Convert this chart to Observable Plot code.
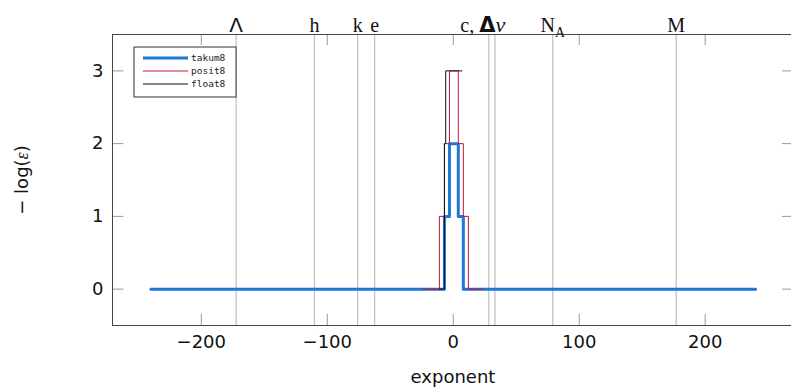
<!DOCTYPE html>
<html><head><meta charset="utf-8">
<script src="https://cdn.jsdelivr.net/npm/d3@7"></script>
<script src="https://cdn.jsdelivr.net/npm/@observablehq/plot@0.6"></script>
<style>body{margin:0;background:#fff} svg{display:block}</style>
</head><body><div id="chart"></div>
<script>
// series (step breakpoints: exponent -> value, step-after)
const takumX = [-240, -7, -3, 4, 8, 240];
const takumY = [0, 1, 2, 1, 0, 0];
const positX = [-24, -11, -7, -3, 4, 8, 12, 24];
const positY = [0, 1, 2, 3, 2, 1, 0, 0];
const floatX = [-11, -7, -6, 7];
const floatY = [0, 2, 3, 3];
const seriesNames = ["takum8", "posit8", "float8"];
const seriesColors = ["#1f77d6", "#c0143c", "#111111"];
const seriesWidths = [3, 1, 1];
// physical constants (log2 of value)
const constNames = ["Λ", "h", "k", "e", "c", "Δν", "NA", "M"];
const constExps = [-172.3, -110.2, -75.9, -62.4, 28.2, 33.1, 79.0, 177.0];
const topLabelNames = ["Λ", "h", "k", "e", "NA", "M"];
const xTicks = [-200, -100, 0, 100, 200];
const yTicks = [0, 1, 2, 3];
const xDomain = [-270.5, 270.5];
const yDomain = [-0.5, 3.5];

const toRows = (xs, ys, name) => xs.map((x, i) => ({x, y: ys[i], name}));
const series = [toRows(takumX, takumY, "takum8"), toRows(positX, positY, "posit8"), toRows(floatX, floatY, "float8")];
const expOf = n => constExps[constNames.indexOf(n)];

const plot = Plot.plot({
  width: 791, height: 390,
  marginLeft: 112, marginRight: -2.5, marginTop: 34, marginBottom: 65,
  style: {fontFamily: "DejaVu Sans", background: "#fff"},
  x: {domain: xDomain},
  y: {domain: yDomain},
  marks: [
    Plot.ruleX(constExps, {x: d => d, stroke: "#c4c4c4", strokeWidth: 1.3}),
    Plot.tickX(xTicks, {x: d => d, insetTop: 280, stroke: "#999"}),
    Plot.tickX(xTicks, {x: d => d, insetBottom: 280, stroke: "#999"}),
    Plot.tickY(yTicks, {y: d => d, insetRight: 670, stroke: "#999"}),
    Plot.tickY(yTicks, {y: d => d, insetLeft: 670, stroke: "#999"}),
    ...series.map((rows, i) => Plot.line(rows, {x: "x", y: "y", curve: "step-after", stroke: seriesColors[i], strokeWidth: seriesWidths[i]})),
    Plot.ruleY(yDomain, {y: d => d, stroke: "#444", strokeWidth: 1}),
    Plot.ruleX([xDomain[0]], {x: d => d, stroke: "#444", strokeWidth: 1}),
    Plot.axisX(xTicks, {anchor: "bottom", tickSize: 0, tickPadding: 10, fontSize: 18, label: null, fill: "#111", tickFormat: d3.format("d")}),
    Plot.axisY(yTicks, {anchor: "left", tickSize: 0, tickPadding: 9, fontSize: 18, label: null, fill: "#111", tickFormat: d3.format("d")}),
    Plot.text(topLabelNames, {x: d => expOf(d), text: d => d, frameAnchor: "top", dy: -17, fontFamily: "Liberation Serif", fontSize: 20, fill: "#111"}),
    Plot.text(["c,Δν"], {x: () => expOf("c"), text: d => d, frameAnchor: "top", dy: -17, dx: -6, fontFamily: "Liberation Serif", fontSize: 20, fill: "#111"})
  ]
});
document.getElementById("chart").appendChild(plot);

const svg = d3.select(plot);
// rich text tweaks
svg.selectAll("text").each(function() {
  const t = this.textContent;
  if (t === "NA") {
    this.innerHTML = 'N<tspan font-size="14" dy="5">A</tspan>';
  } else if (t === "c,Δν") {
    this.innerHTML = 'c, <tspan font-family="DejaVu Sans" font-weight="bold" font-size="21">Δ</tspan><tspan font-style="italic" font-size="22">ν</tspan>';
  } else if (t === "Λ") {
    this.setAttribute("font-family", "DejaVu Sans");
    this.setAttribute("font-size", "20");
  }
});

// axis titles
svg.append("text").attr("x", 453).attr("y", 383).attr("text-anchor", "middle")
  .attr("font-family", "DejaVu Sans").attr("font-size", 18).attr("fill", "#111").text("exponent");
const yl = svg.append("text").attr("transform", "translate(28,180) rotate(-90)").attr("text-anchor", "middle")
  .attr("font-family", "DejaVu Sans").attr("font-size", 18).attr("fill", "#111");
yl.append("tspan").text("− log(");
yl.append("tspan").attr("font-family", "Liberation Serif").attr("font-style", "italic").text("ε");
yl.append("tspan").text(")");

// legend
const lg = svg.append("g");
lg.append("rect").attr("x", 134).attr("y", 47).attr("width", 102).attr("height", 50)
  .attr("fill", "#fff").attr("stroke", "#333").attr("stroke-width", 1);
seriesNames.forEach((n, i) => {
  const yy = 58 + i * 13;
  lg.append("line").attr("x1", 143).attr("x2", 188).attr("y1", yy).attr("y2", yy)
    .attr("stroke", seriesColors[i]).attr("stroke-width", seriesWidths[i] === 3 ? 3 : 1.2);
  lg.append("text").attr("x", 191).attr("y", yy + 3).attr("text-anchor", "start").attr("font-family", "DejaVu Sans Mono")
    .attr("font-size", 9.5).attr("fill", "#222").text(n);
});
</script>
</body></html>
